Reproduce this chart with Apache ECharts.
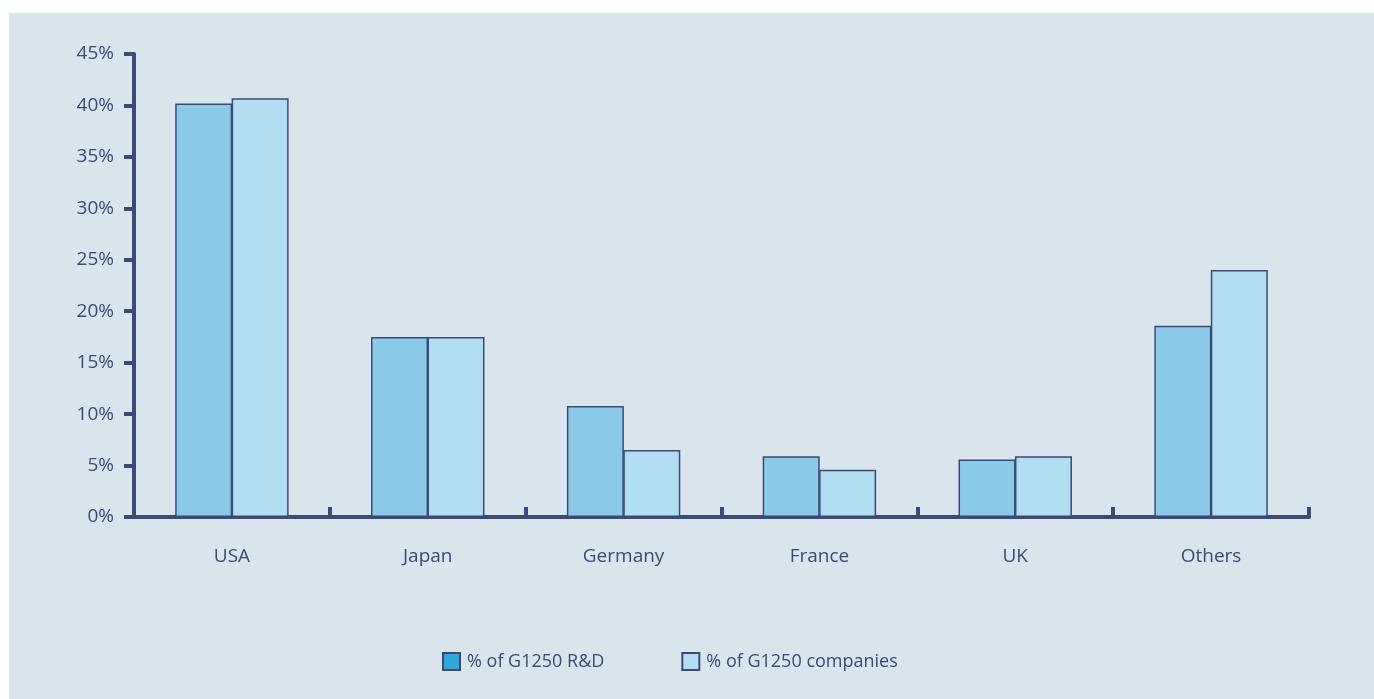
<!DOCTYPE html>
<html>
<head>
<meta charset="utf-8">
<script src="https://cdn.jsdelivr.net/npm/echarts@6/dist/echarts.min.js"></script>
<style>
  html, body { margin: 0; padding: 0; background: #ffffff; }
  #chart { width: 1374px; height: 699px; }
</style>
</head>
<body>
<div id="chart"></div>
<script>
// Share of G1250 R&D and of G1250 companies by country (%)
const categories = ['USA', 'Japan', 'Germany', 'France', 'UK', 'Others'];
const rdShare = [40.2, 17.5, 10.8, 5.9, 5.6, 18.6];
const companyShare = [40.7, 17.5, 6.5, 4.6, 5.9, 24.0];
const seriesNames = ['% of G1250 R&D', '% of G1250 companies'];

const ink = '#3c4a77';
const font = '"Open Sans", Lato, sans-serif';

const chart = echarts.init(document.getElementById('chart'));
chart.setOption({
  backgroundColor: '#ffffff',
  animation: false,
  graphic: [{
    type: 'rect',
    z: -10,
    shape: { x: 9, y: 13, width: 1374 - 9, height: 699 - 13 },
    style: { fill: '#d9e5ec' }
  }],
  textStyle: { fontFamily: font, color: ink },
  grid: { left: 134, right: 65, top: 54, bottom: 182 },
  legend: {
    left: 437,
    top: 647,
    itemWidth: 17,
    itemHeight: 17,
    itemGap: 77,
    icon: 'rect',
    textStyle: { fontFamily: font, fontSize: 18, color: ink, padding: [0, 0, 0, 2] },
    data: [
      { name: seriesNames[0], itemStyle: { color: '#30a8d8', borderColor: ink, borderWidth: 2 } },
      { name: seriesNames[1], itemStyle: { color: '#b0ddef', borderColor: ink, borderWidth: 2 } }
    ]
  },
  xAxis: {
    type: 'category',
    data: categories,
    axisLine: { show: true, lineStyle: { color: ink, width: 4 } },
    axisTick: { show: true, inside: true, length: 10, lineStyle: { color: ink, width: 4 } },
    axisLabel: { fontFamily: font, fontSize: 19, color: ink, margin: 30 }
  },
  yAxis: {
    type: 'value',
    min: 0,
    max: 45,
    interval: 5,
    splitLine: { show: false },
    axisLine: { show: true, lineStyle: { color: ink, width: 4 } },
    axisTick: { show: true, length: 10, lineStyle: { color: ink, width: 4 } },
    axisLabel: {
      fontFamily: font, fontSize: 19, color: ink, margin: 20,
      formatter: v => v + '%'
    }
  },
  series: [
    {
      name: seriesNames[0],
      type: 'bar',
      data: rdShare,
      barWidth: 57,
      barGap: '-1%',
      itemStyle: { color: '#8acae6', borderColor: ink, borderWidth: 1.5 }
    },
    {
      name: seriesNames[1],
      type: 'bar',
      data: companyShare,
      barWidth: 57,
      barGap: '-1%',
      itemStyle: { color: '#b0ddef', borderColor: ink, borderWidth: 1.5 }
    }
  ]
});
</script>
</body>
</html>
